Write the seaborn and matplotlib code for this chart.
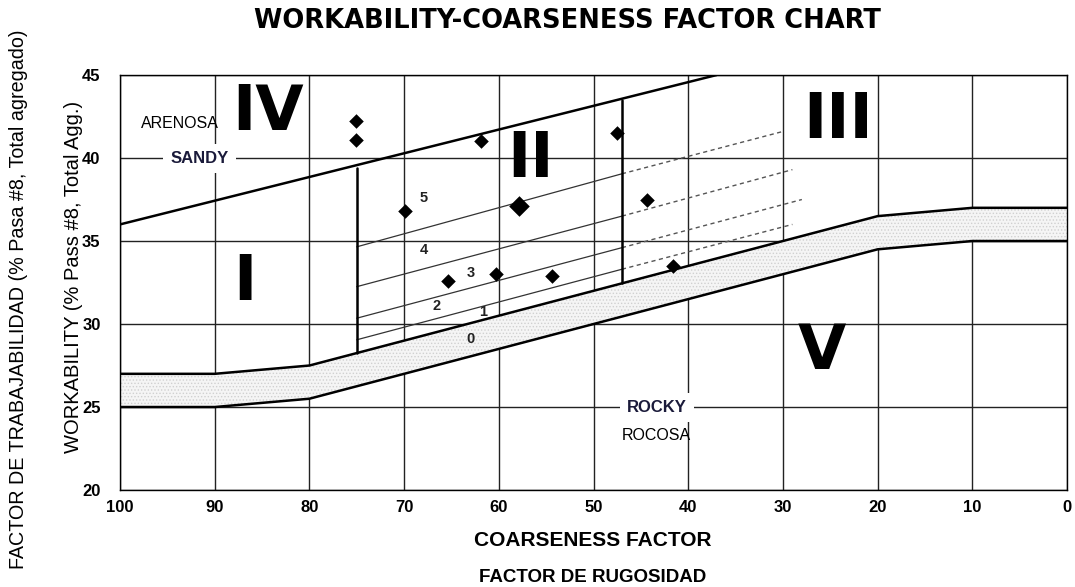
import matplotlib
matplotlib.use('Agg')
import matplotlib.pyplot as plt
import seaborn as sns
import pandas as pd

# band (transition zone) boundaries
band_x = [100, 90, 80, 20, 10, 0]
band_top = [27, 27, 27.5, 36.5, 37, 37]
band_bottom = [25, 25, 25.5, 34.5, 35, 35]

# sandy boundary line
sandy_x = [100, 37]
sandy_y = [36, 45]

# zone II vertical limits
zone_left_x = 75
zone_left_y = [28.25, 39.4]
zone_right_x = 47
zone_right_y = [32.5, 43.5]

# workability sub-zone lines: solid part (75 -> 47) and dashed extension
sub_solid = {
    'A': ([75, 47], [34.65, 39.05]),
    'B': ([75, 47], [32.25, 36.5]),
    'C': ([75, 47], [30.35, 34.6]),
    'D': ([75, 47], [29.05, 33.3]),
}
sub_dashed = {
    'A': ([47, 30], [39.05, 41.6]),
    'B': ([47, 29], [36.5, 39.3]),
    'C': ([47, 28], [34.6, 37.5]),
    'D': ([47, 29], [33.3, 36.0]),
}

# measured mixes
cf = [75.1, 75.1, 69.9, 61.9, 65.4, 60.3, 54.4, 47.5, 44.3, 41.6]
wf = [42.2, 41.1, 36.8, 41.0, 32.6, 33.0, 32.9, 41.5, 37.5, 33.5]
cf_big = [57.9]
wf_big = [37.1]

zone_labels = ['IV', 'II', 'III', 'I', 'V']
zone_x = [84.4, 56.7, 24.2, 86.8, 25.9]
zone_y = [42.7, 39.9, 42.2, 32.5, 28.3]

sub_labels = ['5', '4', '3', '2', '1', '0']
sub_x = [67.9, 67.9, 63.0, 66.6, 61.7, 63.0]
sub_y = [37.6, 34.45, 33.1, 31.1, 30.7, 29.1]

sns.set_style('white')
plt.rcParams['font.family'] = ['Liberation Sans', 'DejaVu Sans']
plt.rcParams['text.color'] = 'black'
plt.rcParams['xtick.color'] = 'black'
plt.rcParams['ytick.color'] = 'black'
plt.rcParams['hatch.linewidth'] = 0.6
narrow = ['Liberation Sans Narrow', 'Liberation Sans', 'DejaVu Sans']

fig = plt.figure(figsize=(10.75, 5.87), dpi=100)
ax = fig.add_axes([0.1116, 0.1652, 0.8810, 0.7070])

ax.set_xlim(100, 0)
ax.set_ylim(20, 45)
ax.set_xticks(range(100, -1, -10))
ax.set_yticks(range(20, 46, 5))
ax.grid(True, color='#222222', linewidth=1.0, zorder=0)
ax.set_axisbelow(True)
for s in ax.spines.values():
    s.set_color('black')
    s.set_linewidth(1.0)
ax.tick_params(axis='x', direction='inout', length=9, width=1, colors='black',
               labelsize=12, pad=3)
ax.tick_params(axis='y', direction='out', length=9, width=1, colors='black',
               labelsize=12, pad=5)
for lab in ax.get_xticklabels() + ax.get_yticklabels():
    lab.set_fontweight('bold')

# transition band
ax.fill_between(band_x, band_bottom, band_top, facecolor='#f5f5f5',
                edgecolor='#d0d0d0', hatch='.....', linewidth=0, zorder=1)
sns.lineplot(x=band_x, y=band_top, color='black', linewidth=1.8, sort=False, ax=ax, zorder=3)
sns.lineplot(x=band_x, y=band_bottom, color='black', linewidth=1.8, sort=False, ax=ax, zorder=3)

sns.lineplot(x=sandy_x, y=sandy_y, color='black', linewidth=1.8, sort=False, ax=ax, zorder=3)
ax.plot([zone_left_x, zone_left_x], zone_left_y, color='black', linewidth=1.8, zorder=3)
ax.plot([zone_right_x, zone_right_x], zone_right_y, color='black', linewidth=1.8, zorder=3)

for k in sub_solid:
    xs, ys = sub_solid[k]
    ax.plot(xs, ys, color='#333333', linewidth=0.9, zorder=2)
    xs, ys = sub_dashed[k]
    ax.plot(xs, ys, color='#555555', linewidth=1.0, linestyle=(0, (3, 2.5)), zorder=2)

pts = pd.DataFrame({'cf': cf, 'wf': wf})
sns.scatterplot(data=pts, x='cf', y='wf', marker='D', s=55, color='black',
                edgecolor='black', linewidth=0, ax=ax, zorder=5)
sns.scatterplot(x=cf_big, y=wf_big, marker='D', s=110, color='black',
                edgecolor='black', linewidth=0, ax=ax, zorder=5)

for t, x, y in zip(zone_labels, zone_x, zone_y):
    ax.text(x, y, t, fontsize=45, fontweight='bold', family=['DejaVu Sans'],
            color='black', ha='center', va='center', zorder=6)

for t, x, y in zip(sub_labels, sub_x, sub_y):
    ax.text(x, y, t, fontsize=10.5, fontweight='bold', ha='center', va='center',
            color='#222222', zorder=6)

ax.text(93.7, 42.05, 'ARENOSA', fontsize=11.5, family=narrow, ha='center', va='center', zorder=6)
ax.text(91.6, 40.0, 'SANDY', fontsize=12, fontweight='bold', color='#1a1a3a',
        ha='center', va='center', zorder=6,
        bbox=dict(facecolor='white', edgecolor='none', pad=5))
ax.text(43.3, 24.95, 'ROCKY', fontsize=12, fontweight='bold', color='#1a1a3a',
        ha='center', va='center', zorder=6,
        bbox=dict(facecolor='white', edgecolor='none', pad=5))
ax.text(43.4, 23.3, 'ROCOSA', fontsize=11.5, family=narrow, ha='center', va='center', zorder=6)

ax.set_xlabel('')
ax.set_ylabel('')
fig.text(0.5516, 0.080, 'COARSENESS FACTOR', fontsize=15, fontweight='bold',
         family=narrow, ha='center', va='center')
fig.text(0.5516, 0.017, 'FACTOR DE RUGOSIDAD', fontsize=13.5, fontweight='bold',
         family=narrow, ha='center', va='center')
fig.text(0.068, 0.528, 'WORKABILITY (% Pass #8, Total Agg.)', fontsize=14.5,
         family=narrow, rotation=90, ha='center', va='center')
fig.text(0.017, 0.49, 'FACTOR DE TRABAJABILIDAD (% Pasa #8, Total agregado)', fontsize=14.2,
         family=narrow, rotation=90, ha='center', va='center')
fig.text(0.528, 0.965, 'WORKABILITY-COARSENESS FACTOR CHART', fontsize=18.5,
         fontweight='bold', family=['DejaVu Sans'], ha='center', va='center')

fig.savefig('out.png', dpi=100)
